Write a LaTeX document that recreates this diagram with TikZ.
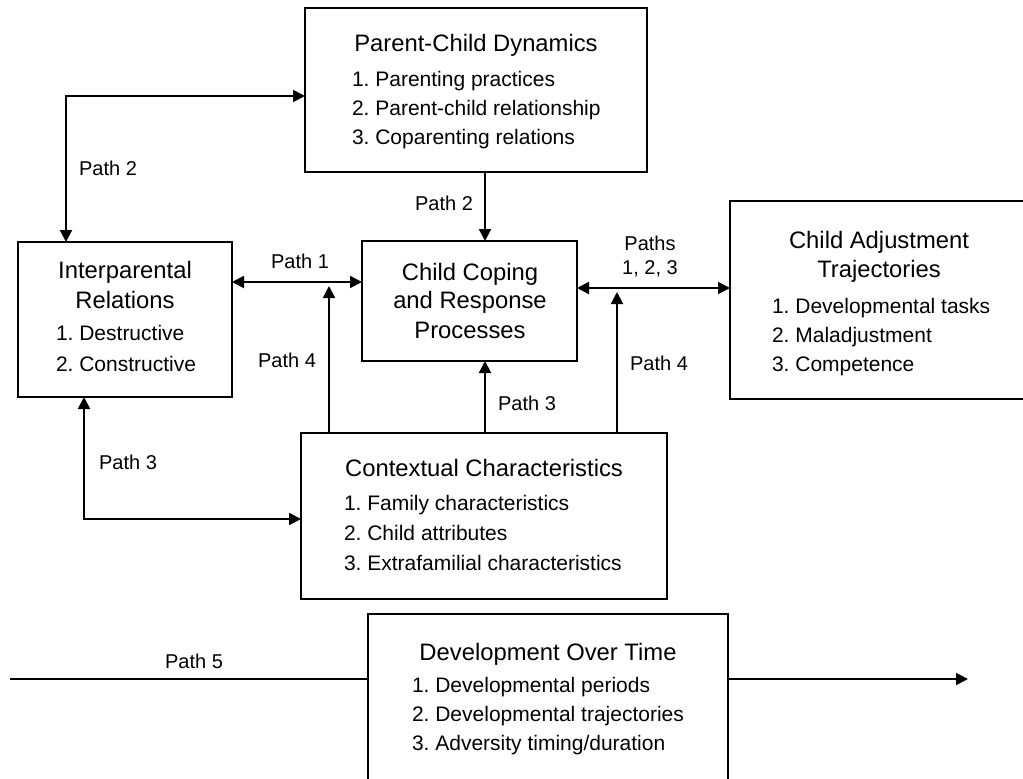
\documentclass[tikz,border=0pt]{standalone}
\usepackage{fontspec}
\setmainfont{Liberation Sans}
\usetikzlibrary{arrows.meta}
\usetikzlibrary{calc}

\begin{document}
\begin{tikzpicture}[x=1pt, y=-1pt, line width=2pt,
  box/.style={draw, rectangle, inner sep=0pt, outer sep=0pt},
  ttl/.style={anchor=base, inner sep=0pt, font=\fontsize{23.8}{28}\selectfont},
  itm/.style={anchor=base west, inner sep=0pt, font=\fontsize{21}{25}\selectfont},
  lbl/.style={anchor=base, inner sep=0pt, font=\fontsize{20}{24}\selectfont},
  >={Triangle[length=12pt, width=12pt]}]

  \clip (0,0) rectangle (1023,779);

    %----------------------------------------------------------
    % Boxes
    %----------------------------------------------------------
  \node[box, minimum width=342pt, minimum height=164pt] (pcd) at (476,90) {};
  \node[box, minimum width=214pt, minimum height=155pt] (ipr) at (125,319.5) {};
  \node[box, minimum width=215pt, minimum height=120pt] (ccr) at (469.5,301) {};
  \node[box, minimum width=298pt, minimum height=198pt] (cad) at (879,300) {};
  \node[box, minimum width=366pt, minimum height=166pt] (ctx) at (484,516) {};
  \node[box, minimum width=360pt, minimum height=200pt] (dot) at (548,714) {};

    %----------------------------------------------------------
    % Box texts
    %----------------------------------------------------------
  % parent-child dynamics
  \node[ttl] (pcdT) at (476,51.5) {Parent-Child Dynamics};
  \foreach \t [count=\i] in {Parenting practices, Parent-child relationship,
      Coparenting relations}
    \node[itm] (pcd\i) at (351,57.5+29*\i) {\i.\ \t};

  % interparental relations
  \node[ttl] (iprT1) at (125,278.5) {Interparental};
  \node[ttl] (iprT2) at (125,308.5) {Relations};
  \foreach \t [count=\i] in {Destructive, Constructive}
    \node[itm] (ipr\i) at (55,309.5+31*\i) {\i.\ \t};

  % child coping
  \node[ttl] (ccrT1) at (470,280.5) {Child Coping};
  \node[ttl] (ccrT2) at (470,308.5) {and Response};
  \node[ttl] (ccrT3) at (470,338.5) {Processes};

  % child adjustment
  \node[ttl] (cadT1) at (879,248.5) {Child Adjustment};
  \node[ttl] (cadT2) at (879,277.5) {Trajectories};
  \foreach \t [count=\i] in {Developmental tasks, Maladjustment, Competence}
    \node[itm] (cad\i) at (771,284.5+29*\i) {\i.\ \t};

  % contextual characteristics
  \node[ttl] (ctxT) at (484,476.5) {Contextual Characteristics};
  \foreach \t [count=\i] in {Family characteristics, Child attributes,
      Extrafamilial characteristics}
    \node[itm] (ctx\i) at (343,480.5+30*\i) {\i.\ \t};

  % development over time
  \node[ttl] (dotT) at (548,660.5) {Development Over Time};
  \foreach \t [count=\i] in {Developmental periods, Developmental trajectories,
      {Adversity timing/duration}}
    \node[itm] (dot\i) at (411,663.5+29*\i) {\i.\ \t};

    %----------------------------------------------------------
    % Paths
    %----------------------------------------------------------
  \coordinate (p2a) at (66,96);
  \coordinate (p23) at (485,0);
  \coordinate (p1) at (0,282);
  \coordinate (p4a) at (329,286);
  \coordinate (p123) at (0,288);
  \coordinate (p4b) at (617,292);
  \coordinate (p3a) at (84,519);
  \coordinate (p5a) at (10,679);
  \coordinate (p5b) at (968,679);

  \draw[<->] (ipr.north -| p2a) |- (pcd.west |- p2a);
  \draw[->] (pcd.south -| p23) -- (ccr.north -| p23);
  \draw[<->] (ipr.east |- p1) -- (ccr.west |- p1);
  \draw[->] (ctx.north -| p4a) -- (p4a);
  \draw[<->] (ccr.east |- p123) -- (cad.west |- p123);
  \draw[->] (ctx.north -| p4b) -- (p4b);
  \draw[->] (ctx.north -| p23) -- (ccr.south -| p23);
  \draw[<->] (ipr.south -| p3a) |- (ctx.west |- p3a);
  \draw (p5a) -- (dot.west |- p5a);
  \draw[->] (dot.east |- p5a) -- (p5b);

  % path labels
  \node[lbl] (l2a) at (108,175) {Path 2};
  \node[lbl] (l2b) at (444,210) {Path 2};
  \node[lbl] (l1) at (300,268) {Path 1};
  \node[lbl] (l4a) at (287,367) {Path 4};
  \node[lbl] (l123a) at (650,250) {Paths};
  \node[lbl] (l123b) at (650,274) {1, 2, 3};
  \node[lbl] (l4b) at (659,370) {Path 4};
  \node[lbl] (l3b) at (527,410) {Path 3};
  \node[lbl] (l3a) at (128,469) {Path 3};
  \node[lbl] (l5) at (194,668) {Path 5};
\end{tikzpicture}
\end{document}
